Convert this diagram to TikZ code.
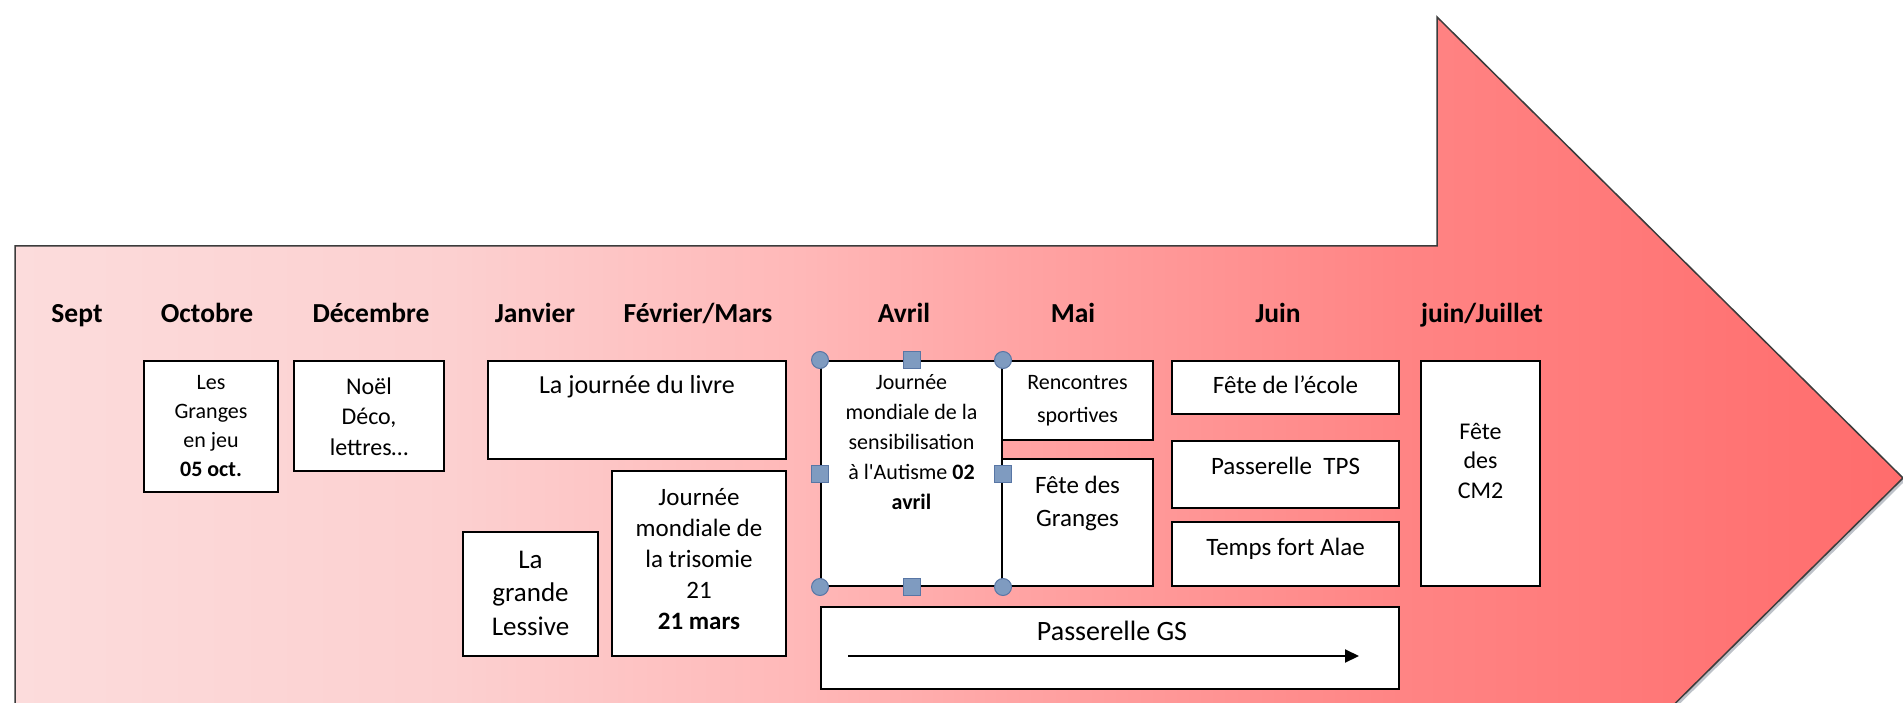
\documentclass[tikz,border=0pt]{standalone}
\usepackage{fontspec}
\setmainfont{Carlito}[Ligatures=TeXOff]
\usetikzlibrary{arrows.meta}
\definecolor{sA}{RGB}{252,220,220}
\definecolor{sB}{RGB}{252,208,208}
\definecolor{sC}{RGB}{255,184,184}
\definecolor{sD}{RGB}{255,165,165}
\definecolor{sE}{RGB}{255,132,132}
\definecolor{sF}{RGB}{255,108,108}
\definecolor{edgec}{RGB}{60,60,60}
\definecolor{shadowc}{RGB}{70,80,100}
\definecolor{hfill}{RGB}{127,155,192}
\definecolor{hdraw}{RGB}{88,118,165}
\pgfdeclarehorizontalshading{arrowshade}{100bp}{color(0bp)=(sA); color(25bp)=(sA); color(36.5bp)=(sB); color(45.8bp)=(sC); color(51.1bp)=(sD); color(61.7bp)=(sE); color(75bp)=(sF); color(100bp)=(sF)}
\begin{document}
\begin{tikzpicture}[x=1pt,y=-1pt,
  evbox/.style={draw=black, line width=2pt, fill=white, inner sep=0pt},
  evtext/.style={inner sep=0pt, anchor=north, align=center},
  month/.style={font=\bfseries\fontsize{27.5}{33}\selectfont, anchor=base, inner sep=0pt},
  handlec/.style={circle, fill=hfill, draw=hdraw, line width=1pt, minimum size=17pt, inner sep=0pt},
  handles/.style={rectangle, fill=hfill, draw=hdraw, line width=1pt, minimum size=17pt, inner sep=0pt}]
\useasboundingbox (0,0) rectangle (1903,703);
\begin{scope}
\clip (0,0) rectangle (1903,703);
\fill[shadowc, opacity=.35, shift={(2,3)}] (15,246) -- (1437,246) -- (1437,17) -- (1903,478) -- (1437,939) -- (1437,720) -- (15,720) -- cycle;
\shadedraw[shading=arrowshade, draw=edgec, line width=1.5pt] (15,246) -- (1437,246) -- (1437,17) -- (1903,478) -- (1437,939) -- (1437,720) -- (15,720) -- cycle;
\end{scope}
% month labels
\node[month] (m-sept) at (77,322) {Sept};
\node[month] (m-oct) at (207,322) {Octobre};
\node[month] (m-dec) at (371,322) {Décembre};
\node[month] (m-jan) at (535,322) {Janvier};
\node[month] (m-fev) at (698,322) {Février/Mars};
\node[month] (m-avr) at (904,322) {Avril};
\node[month] (m-mai) at (1073,322) {Mai};
\node[month] (m-juin) at (1278,322) {Juin};
\node[month] (m-juil) at (1482,322) {juin/Juillet};
% boxes
\node[evbox, minimum width=134pt, minimum height=131pt] (granges) at (211,426.5) {};
\node[evtext, font=\fontsize{22}{29}\selectfont] (granges-t) at (211,369.3) {\strut Les\\Granges\\en jeu\\\textbf{05 oct.}};
\node[evbox, minimum width=150pt, minimum height=110pt] (noel) at (369,416) {};
\node[evtext, font=\fontsize{24}{30.5}\selectfont] (noel-t) at (369,372.9) {\strut Noël\\Déco,\\lettres…};
\node[evbox, minimum width=298pt, minimum height=98pt] (livre) at (637,410) {};
\node[evtext, font=\fontsize{26}{32}\selectfont] (livre-t) at (637,370.4) {\strut La journée du livre};
\node[evbox, minimum width=135pt, minimum height=124pt] (lessive) at (530.5,594) {};
\node[evtext, font=\fontsize{27}{33.5}\selectfont] (lessive-t) at (530.5,544.7) {\strut La\\grande\\Lessive};
\node[evbox, minimum width=174pt, minimum height=185pt] (trisomie) at (699,563.5) {};
\node[evtext, font=\fontsize{25}{31}\selectfont] (trisomie-t) at (699,483.8) {\strut Journée\\mondiale de\\la trisomie\\21\\\textbf{21 mars}};
\node[evbox, minimum width=151pt, minimum height=79pt] (rencontres) at (1077.5,400.5) {};
\node[evtext, font=\fontsize{22}{33}\selectfont] (rencontres-t) at (1077.5,366.5) {\strut Rencontres\\sportives};
\node[evbox, minimum width=151pt, minimum height=127pt] (fgranges) at (1077.5,522.5) {};
\node[evtext, font=\fontsize{25}{33}\selectfont] (fgranges-t) at (1077.5,470.4) {\strut Fête des\\Granges};
\node[evbox, minimum width=181pt, minimum height=225pt] (autisme) at (911.5,473.5) {};
\node[evtext, font=\fontsize{22}{30}\selectfont] (autisme-t) at (911.5,368.6) {\strut Journée\\mondiale de la\\sensibilisation\\à l'Autisme \textbf{02}\\\textbf{avril}};
\node[evbox, minimum width=227pt, minimum height=53pt] (ecole) at (1285.5,387.5) {};
\node[evtext, font=\fontsize{25}{31}\selectfont] (ecole-t) at (1285.5,371.8) {\strut Fête de l’école};
\node[evbox, minimum width=227pt, minimum height=67pt] (tps) at (1285.5,474.5) {};
\node[evtext, font=\fontsize{25}{31}\selectfont] (tps-t) at (1285.5,452.8) {\strut Passerelle\ \ TPS};
\node[evbox, minimum width=227pt, minimum height=64pt] (alae) at (1285.5,554) {};
\node[evtext, font=\fontsize{25}{31}\selectfont] (alae-t) at (1285.5,533.8) {\strut Temps fort Alae};
\node[evbox, minimum width=119pt, minimum height=225pt] (cm2) at (1480.5,473.5) {};
\node[evtext, font=\fontsize{24}{29.5}\selectfont] (cm2-t) at (1480.5,418.6) {\strut Fête\\des\\CM2};
\node[evbox, minimum width=578pt, minimum height=82pt] (gs) at (1110,648) {};
\node[evtext, font=\fontsize{28}{34}\selectfont] (gs-t) at (1112,616.6) {\strut Passerelle GS};
\coordinate (gs-a) at (848,656);
\coordinate (gs-b) at (1359,656);
\draw[line width=2pt, -{Triangle[length=14pt,width=13pt]}] (gs-a) -- (gs-b);
% selection handles
\node[handlec] (h-nw) at (autisme.north west) {};
\node[handlec] (h-ne) at (autisme.north east) {};
\node[handlec] (h-sw) at (autisme.south west) {};
\node[handlec] (h-se) at (autisme.south east) {};
\node[handles] (h-n) at (autisme.north) {};
\node[handles] (h-s) at (autisme.south) {};
\node[handles] (h-w) at (autisme.west) {};
\node[handles] (h-e) at (autisme.east) {};
\end{tikzpicture}
\end{document}
